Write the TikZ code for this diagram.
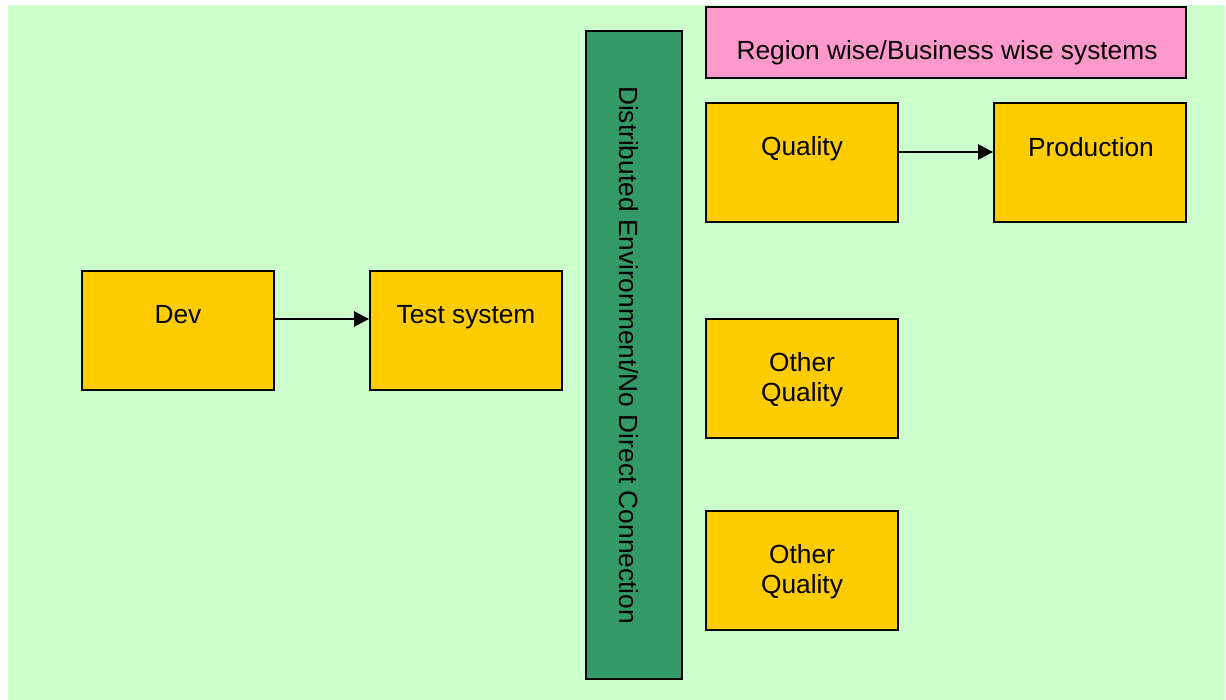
\documentclass[tikz,border=0pt]{standalone}
\usepackage{fontspec}
\setmainfont{Liberation Sans}
\usetikzlibrary{arrows.meta}
\definecolor{bggreen}{HTML}{CCFFCC}
\definecolor{boxyellow}{HTML}{FFCC00}
\definecolor{boxpink}{HTML}{FF99CC}
\definecolor{bardark}{HTML}{339966}
\tikzset{
  sysbox/.style={draw=black, line width=1.8pt, fill=boxyellow, minimum width=192pt, minimum height=119pt, inner sep=0pt},
  txt/.style={font=\fontsize{26.3}{30}\selectfont, inner sep=0pt, align=center},
  flow/.style={line width=2.5pt, -{Triangle[length=15pt,width=15pt]}}
}
\begin{document}
\begin{tikzpicture}[x=1pt,y=-1pt]
\useasboundingbox (0,0) rectangle (1226,700);
% backdrop
\fill[bggreen] (8,5) rectangle (1225,700);

% vertical separator bar
\node[draw=black, line width=2.6pt, fill=bardark, minimum width=96pt, minimum height=648pt, inner sep=0pt] (bar) at (634,355) {};
\node[txt, rotate=-90] (bartxt) at (629,355) {Distributed Environment/No Direct Connection};

% header
\node[draw=black, line width=1.8pt, fill=boxpink, minimum width=480pt, minimum height=71pt, inner sep=0pt] (hdr) at (946,42.5) {};
\node[txt] (hdrtxt) at (947,53) {Region wise/Business wise systems};

% systems
\node[sysbox] (dev) at (178,330.5) {};
\node[txt] (devtxt) at (178,315) {Dev};
\node[sysbox] (test) at (466,330.5) {};
\node[txt] (testtxt) at (466,317) {Test system};
\node[sysbox] (qual) at (802,162.5) {};
\node[txt] (qualtxt) at (802,149) {Quality};
\node[sysbox] (prod) at (1090,162.5) {};
\node[txt] (prodtxt) at (1091,147) {Production};
\node[sysbox] (oq1) at (802,378.5) {};
\node[txt] (oq1txt) at (802,380) {Other\\Quality};
\node[sysbox] (oq2) at (802,570.5) {};
\node[txt] (oq2txt) at (802,572) {Other\\Quality};

% transports
\draw[flow] ([yshift=11.5pt]dev.east) -- ([yshift=11.5pt]test.west);
\draw[flow] ([yshift=10.5pt]qual.east) -- ([yshift=10.5pt]prod.west);
\end{tikzpicture}
\end{document}
